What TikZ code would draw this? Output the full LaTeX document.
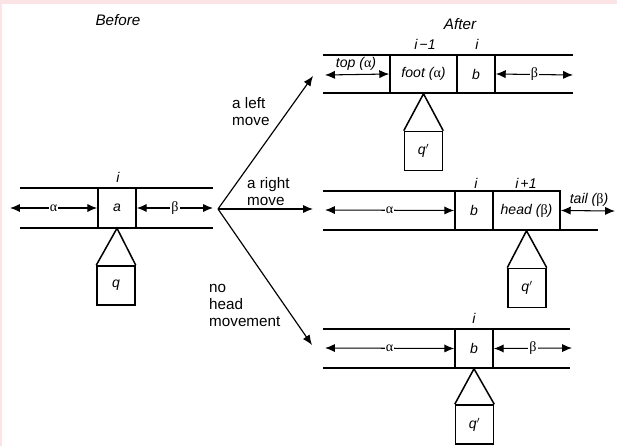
\documentclass[tikz,border=0pt]{standalone}
\usepackage{fontspec}
\setmainfont{Liberation Sans}
\newfontfamily\greekfont{Liberation Serif}
\usetikzlibrary{arrows.meta,positioning}
\definecolor{framepink}{RGB}{252,228,230}
\newcommand{\galpha}{{\greekfont α}}
\newcommand{\gbeta}{{\greekfont β}}
\tikzset{
  cell/.style={draw, line width=1.3pt, minimum width=1.14cm, minimum height=1.17cm, inner sep=0pt, font=\fontsize{12}{14}\selectfont\itshape},
  widecell/.style={cell, minimum width=2.01cm},
  headbox/.style={draw, line width=1.3pt, minimum width=1.14cm, minimum height=1.17cm, inner sep=0pt, font=\fontsize{12}{14}\selectfont\itshape},
  tapeline/.style={line width=1.5pt},
  span/.style={{Latex[length=8.5pt,width=7pt]}-{Latex[length=8.5pt,width=7pt]}, line width=0.9pt},
  move/.style={-{Latex[length=8.5pt,width=7pt]}, line width=1pt},
  lbl/.style={font=\fontsize{13}{14.5}\selectfont, align=left, inner sep=0pt},
  idx/.style={font=\fontsize{12}{14}\selectfont\itshape, inner sep=0pt},
  greek/.style={fill=white, inner sep=1pt, font=\fontsize{12}{14}\selectfont}
}
\begin{document}
\begin{tikzpicture}[x=0.03cm, y=-0.03cm]
% Frame
\fill[framepink] (0,0) rectangle (617,446);
\fill[white] (2,4) rectangle (617,446);

% Before
\node[idx, font=\fontsize{13}{15}\selectfont\itshape] (before) at (118,20) {Before};
\draw[tapeline] (20,188) -- (213,188);
\draw[tapeline] (20,228) -- (213,228);
\node[cell] (a) at (117,208) {a};
\node[idx] (ia) at (118,177) {i};
\coordinate (aleft) at (10,208);
\coordinate (aright) at (213,208);
\draw[span] (aleft) -- node[greek] {\galpha} (a.west);
\draw[span] (a.east) -- node[greek] {\gbeta} (aright);
\node[headbox] (q) at (116,285.5) {q};
\draw[line width=1.3pt] (q.north west) -- (a.south) -- (q.north east);

% Moves
\coordinate (fork) at (218,209);
\coordinate (upend) at (313,76);
\coordinate (midend) at (313,209);
\coordinate (lowend) at (312,345);
\draw[move] (fork) -- (upend);
\draw[move] (fork) -- (midend);
\draw[move] (fork) -- (lowend);
\node[lbl, anchor=west] (leftlbl) at (232,111.5) {a left\\move};
\node[lbl, anchor=west] (rightlbl) at (247,191.5) {a right\\move};
\node[lbl, anchor=west] (nolbl) at (209,305.5) {no\\head\\movement};

% After: a left move
\node[idx, font=\fontsize{13}{15}\selectfont\itshape] (after) at (460,24) {After};
\draw[tapeline] (323,55) -- (573,55);
\draw[tapeline] (323,93) -- (573,93);
\node[widecell, minimum height=1.14cm] (foot) at (423.5,74) {foot ({\upshape\galpha})};
\node[cell, minimum height=1.14cm] (b1) at (476,74) {b};
\node[idx] (im1) at (425,44) {i\,{\upshape\textminus}1};
\node[idx] (i1) at (477,44) {i};
\coordinate (topleft) at (325,75);
\coordinate (topright) at (573,75);
\draw[span] (topleft) -- (foot.west);
\node[idx] (toplbl) at (356,64) {top ({\upshape\galpha})};
\draw[span] (b1.east) -- node[greek] {\gbeta} (topright);
\node[headbox] (q1) at (423.5,151) {q$'$};
\draw[line width=1.3pt] (q1.north west) -- (foot.south) -- (q1.north east);

% After: a right move
\draw[tapeline] (323,191) -- (561,191);
\draw[tapeline] (323,230) -- (598,230);
\node[cell] (b2) at (474,210.5) {b};
\node[widecell] (headb) at (526.5,210.5) {head ({\upshape\gbeta})};
\node[idx] (i2) at (476,183) {i};
\node[idx] (ip1) at (526,183) {i\,{\upshape+}1};
\coordinate (midleft) at (325,210);
\coordinate (midright) at (615,211);
\draw[span] (midleft) -- node[greek] {\galpha} (b2.west);
\draw[span] (headb.east) -- (midright);
\node[idx] (taillbl) at (589,200) {tail ({\upshape\gbeta})};
\node[headbox] (q2) at (527,288) {q$'$};
\draw[line width=1.3pt] (q2.north west) -- (headb.south) -- (q2.north east);

% After: no head movement
\draw[tapeline] (323,329) -- (570,329);
\draw[tapeline] (323,368) -- (570,368);
\node[cell] (b3) at (474,348.5) {b};
\node[idx] (i3) at (474,318) {i};
\coordinate (lowleft) at (325,348);
\coordinate (lowright) at (572,348);
\draw[span] (lowleft) -- node[greek] {\galpha} (b3.west);
\draw[span] (b3.east) -- node[greek] {\gbeta} (lowright);
\node[headbox] (q3) at (474.5,424.5) {q$'$};
\draw[line width=1.3pt] (q3.north west) -- (b3.south) -- (q3.north east);
\end{tikzpicture}
\end{document}
